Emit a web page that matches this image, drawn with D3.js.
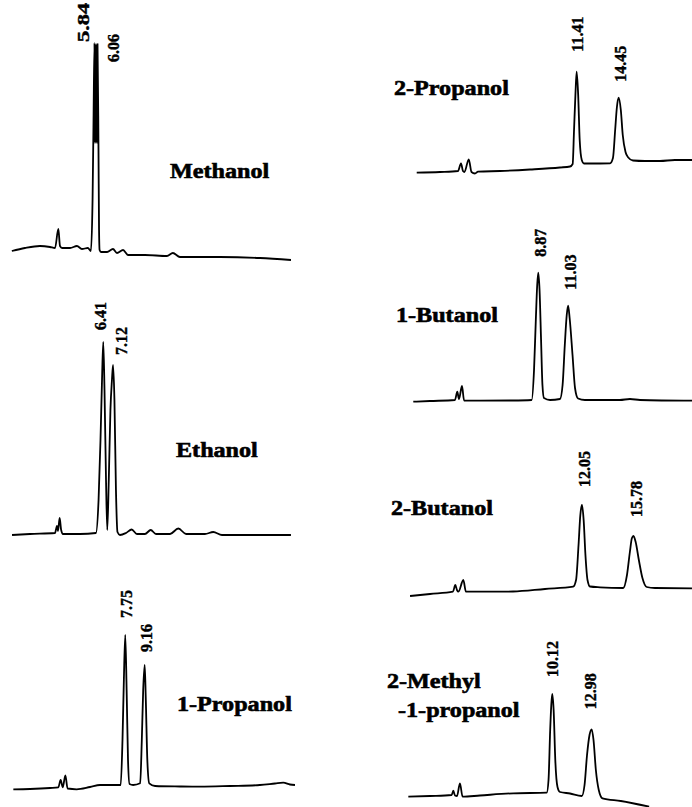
<!DOCTYPE html>
<html><head><meta charset="utf-8">
<script src="https://cdn.jsdelivr.net/npm/d3@7"></script>
<style>html,body{margin:0;padding:0;background:#fff;} svg{display:block}</style>
</head><body>
<svg id="chart" width="692" height="807"></svg>
<script>
// ---------- DATA ----------
const compounds = ["Methanol","Ethanol","1-Propanol","2-Propanol","1-Butanol","2-Butanol","2-Methyl-1-propanol"];
const titleLines = [["Methanol"],["Ethanol"],["1-Propanol"],["2-Propanol"],["1-Butanol"],["2-Butanol"],["2-Methyl","-1-propanol"]];
const retentionTimes = [[5.84,6.06],[6.41,7.12],[7.75,9.16],[11.41,14.45],[8.87,11.03],[12.05,15.78],[10.12,12.98]];
const retentionLabels = [["5.84","6.06"],["6.41","7.12"],["7.75","9.16"],["11.41","14.45"],["8.87","11.03"],["12.05","15.78"],["10.12","12.98"]];

// [retention time (min), detector signal]
const traceMethanol = [[-0.15,11],[0.80,14],[1.89,16],[2.62,15],[2.98,14],[3.22,33],[3.34,16],[3.49,14],[4.07,14],[4.57,16],[4.93,13],[5.36,14],[5.58,11],[5.70,62],[5.77,142],[5.84,219],[5.8675,119],[5.895,218],[5.9225,119],[5.95,217],[5.9775,119],[6.005,218],[6.0325,119],[6.06,218],[6.13,112],[6.17,32],[6.21,12],[6.31,10],[6.75,10],[7.18,13],[7.47,9],[7.91,12],[8.27,7],[9.50,7],[11.09,6],[11.52,9],[12.03,5],[14.93,5],[17.83,4],[20.08,2]];
const traceEthanol = [[-0.20,2],[1.10,3],[2.91,4],[3.06,11],[3.13,6],[3.25,19],[3.36,7],[3.49,3],[4.72,3],[5.88,4],[6.07,37],[6.21,97],[6.32,157],[6.41,195],[6.50,147],[6.61,57],[6.70,7],[6.81,57],[6.93,127],[7.04,157],[7.12,172],[7.22,137],[7.33,47],[7.44,5],[7.62,2],[8.06,4],[8.47,7.5],[8.85,3],[9.43,3],[9.85,7],[10.23,3],[11.25,3],[11.85,8.5],[12.41,3],[13.78,3],[14.38,5],[15.01,2],[17.04,2],[20.01,2]];
const trace1Propanol = [[-0.36,1.7],[0.85,2],[2.30,3],[2.90,3.7],[3.07,11],[3.22,3.7],[3.41,15.7],[3.57,2.5],[4.23,1.7],[5.20,4],[5.92,6],[7.01,6],[7.42,6],[7.55,51],[7.65,111],[7.75,156],[7.85,101],[7.95,31],[8.06,7],[8.32,6],[8.83,7.7],[8.95,51],[9.05,101],[9.16,126],[9.24,91],[9.35,31],[9.49,7.7],[9.91,5],[11.72,4.5],[13.17,4.3],[15.34,5],[17.51,6],[18.60,7.5],[19.20,8.3],[19.69,6.5],[20.05,6]];
const trace2Propanol = [[-0.18,2.3],[1.51,3],[2.81,4],[3.03,11.7],[3.17,4],[3.28,3],[3.59,15.7],[3.79,3],[4.04,1.5],[4.26,3.3],[5.86,4],[8.03,5.5],[10.20,7.5],[10.93,8.5],[11.12,11],[11.22,45],[11.32,80],[11.41,103.3],[11.52,80],[11.63,35],[11.78,15],[11.94,11.5],[12.38,11.5],[13.83,11.7],[14.04,17],[14.20,45],[14.32,67],[14.45,77.3],[14.61,65],[14.75,40],[14.95,23],[15.15,17.5],[15.49,14.5],[16.36,14],[17.45,14],[18.53,15],[19.77,15]];
const trace1Butanol = [[-0.19,1.3],[1.02,2],[2.83,3],[3.00,11.3],[3.12,4],[3.34,17],[3.49,2.5],[4.64,2.3],[6.82,2.5],[8.39,3],[8.56,33],[8.69,83],[8.79,118],[8.87,130.3],[8.96,113],[9.07,63],[9.17,18],[9.28,5],[9.72,3],[10.44,4],[10.63,18],[10.79,58],[10.93,88],[11.03,97.3],[11.14,85],[11.35,48],[11.53,15],[11.75,4.5],[12.25,3],[14.78,3],[15.51,4],[16.24,3],[20.01,2.3]];
const trace2Butanol = [[-0.41,2],[1.04,4],[2.70,6.3],[2.87,13],[2.99,8],[3.10,6.3],[3.45,18],[3.64,6.3],[5.38,6.3],[7.05,6.5],[9.37,9],[11.41,11.3],[11.62,18],[11.80,53],[11.93,83],[12.05,93],[12.17,78],[12.30,43],[12.45,18],[12.63,11.5],[13.36,10.7],[15.04,10],[15.31,23],[15.52,46],[15.67,60],[15.78,62],[15.94,56],[16.17,38],[16.43,20],[16.74,11],[17.34,10],[20.02,9.7]];
const trace2Methyl1Propanol = [[-0.31,11.3],[1.26,12],[2.83,13],[2.95,17.3],[3.07,12.5],[3.22,12],[3.43,24.7],[3.62,11.3],[4.88,12.5],[7.30,14.7],[9.72,15.3],[9.85,28],[9.97,78],[10.05,103],[10.12,114],[10.22,98],[10.34,48],[10.50,21],[10.68,16],[11.41,14.5],[12.26,12],[12.46,23],[12.64,53],[12.82,73],[12.98,78.7],[13.11,68],[13.28,38],[13.49,18],[13.76,9.7],[15.09,7],[17.14,1.3]];
const traces = [traceMethanol, traceEthanol, trace1Propanol, trace2Propanol, trace1Butanol, trace2Butanol, trace2Methyl1Propanol];

// ---------- LAYOUT ----------
const PX_PER_MIN = 13.8;
const layout = [
  {x0:13.9,  yRef:262, title:[[170,178]], labels:[{dx:-11.5,gap:1,stretch:1.4},{dx:15.5,gap:-18}]},
  {x0:14.8,  yRef:537, title:[[176,457]], labels:[{dx:-3,gap:12},{dx:8.5,gap:10}]},
  {x0:18.3,  yRef:791, title:[[177,711]], labels:[{dx:1.4,gap:17},{dx:2,gap:13}]},
  {x0:419.2, yRef:175, title:[[394,95]],  labels:[{dx:0.6,gap:20},{dx:2,gap:16}]},
  {x0:415.9, yRef:403, title:[[396,322]], labels:[{dx:2.4,gap:16},{dx:2.6,gap:16}]},
  {x0:415.7, yRef:598, title:[[391,515]], labels:[{dx:2,gap:18},{dx:2.5,gap:19}]},
  {x0:412.6, yRef:808, title:[[387,688],[398,717]], labels:[{dx:0.4,gap:17},{dx:-1,gap:20}]}
];

const svg = d3.select("#chart");
svg.append("rect").attr("width",692).attr("height",807).attr("fill","#fff");
const FONT = "'Liberation Serif','Times New Roman',serif";

compounds.forEach((name, i) => {
  const L = layout[i];
  const data = traces[i];
  const x = d3.scaleLinear().domain([0, 20]).range([L.x0, L.x0 + 20 * PX_PER_MIN]);
  const y = d3.scaleLinear().domain([0, 250]).range([L.yRef, L.yRef - 250]);
  const g = svg.append("g").attr("class", "panel").attr("data-name", name);

  const line = d3.line().x(d => x(d[0])).y(d => y(d[1])).curve(d3.curveMonotoneX);
  g.append("path").datum(data).attr("d", line)
    .attr("fill", "none").attr("stroke", "#000").attr("stroke-width", 1.8)
    .attr("stroke-linejoin", "round");

  // retention-time labels
  retentionTimes[i].forEach((rt, j) => {
    const nearest = data.reduce((a, b) => Math.abs(b[0] - rt) < Math.abs(a[0] - rt) ? b : a);
    const lab = L.labels[j];
    const lx = x(rt) + lab.dx;
    const ly = y(nearest[1]) - lab.gap;
    g.append("text")
      .attr("transform", `translate(${lx},${ly}) rotate(-90) scale(${lab.stretch || 1},1)`)
      .attr("dy", "0.35em")
      .attr("text-anchor", "start")
      .attr("font-family", FONT).attr("font-weight", "bold").attr("font-size", 16)
      .attr("fill", "#000").attr("stroke", "#000").attr("stroke-width", 0.4)
      .text(retentionLabels[i][j]);
  });

  // compound title
  titleLines[i].forEach((t, k) => {
    const [tx, ty] = L.title[k];
    g.append("text")
      .attr("transform", `translate(${tx},${ty}) scale(1.15,1)`)
      .attr("font-family", FONT).attr("font-weight", "bold").attr("font-size", 21)
      .attr("fill", "#000").attr("stroke", "#000").attr("stroke-width", 0.6)
      .text(t);
  });
});
</script>
</body></html>
